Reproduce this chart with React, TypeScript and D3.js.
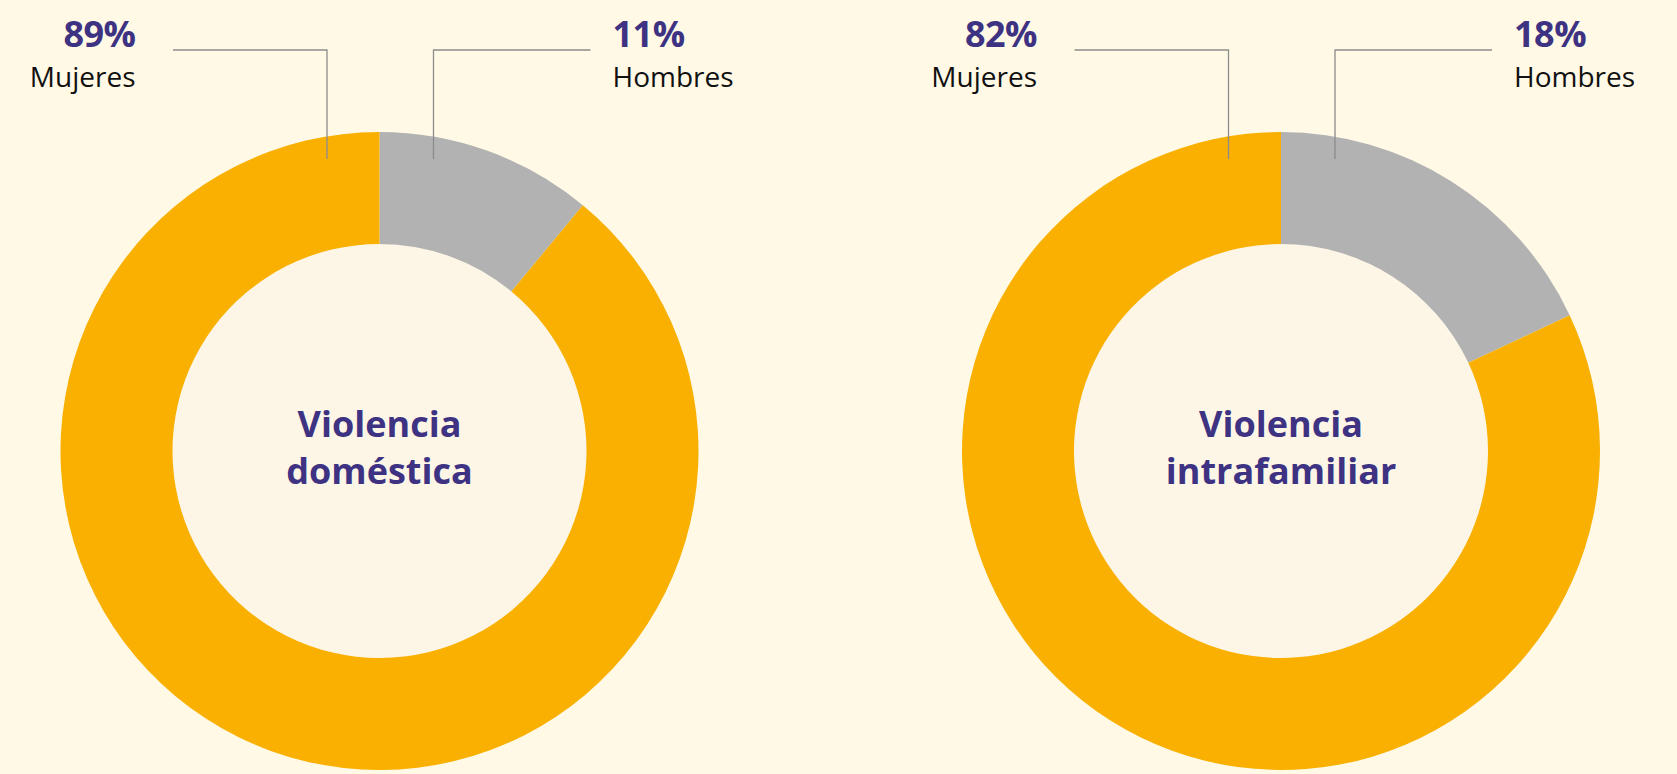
import { useEffect, useRef } from 'react'
import * as d3 from 'd3'

// data
const chartTitles = [['Violencia', 'doméstica'], ['Violencia', 'intrafamiliar']]
const categories = ['Mujeres', 'Hombres']
const domesticaValues = [89, 11]
const intrafamiliarValues = [82, 18]

const width = 1677
const height = 774

export default function App() {
  const svgRef = useRef(null)

  useEffect(() => {
    if (!svgRef.current) return
    document.body.style.margin = '0'

    const svg = d3.select(svgRef.current)
    svg.selectAll('*').remove()

    svg.append('rect')
      .attr('width', width)
      .attr('height', height)
      .attr('fill', '#FFF9E6')

    const outerR = 319
    const innerR = 207
    const cy = 451
    const centers = d3.scalePoint().domain(['0', '1']).range([379.5, 1281])

    const color = d3.scaleOrdinal().domain(categories).range(['#F9B000', '#B2B2B2'])

    // pie goes clockwise from the top; Hombres first, then Mujeres fills the rest
    const pie = d3.pie().value(d => d.value).sort(null)
    const arc = d3.arc().innerRadius(innerR).outerRadius(outerR)

    const datasets = [domesticaValues, intrafamiliarValues]

    datasets.forEach((values, i) => {
      const cx = centers(String(i))
      const rows = categories.map((name, j) => ({ name, value: values[j] })).reverse()

      const g = svg.append('g').attr('transform', `translate(${cx},${cy})`)

      g.append('circle')
        .attr('r', innerR)
        .attr('fill', '#FDF6E7')

      g.selectAll('.slice')
        .data(pie(rows))
        .join('path')
        .attr('class', 'slice')
        .attr('d', arc)
        .attr('fill', d => color(d.data.name))

      // centre title
      g.selectAll('.title')
        .data(chartTitles[i])
        .join('text')
        .attr('class', 'title')
        .attr('text-anchor', 'middle')
        .attr('y', (d, k) => -14 + k * 47)
        .attr('font-family', '"Open Sans", sans-serif')
        .attr('font-weight', 700)
        .attr('font-size', '36px')
        .attr('fill', '#3E3282')
        .text(d => d)

      // leader lines + labels
      const labels = [
        { name: categories[0], value: values[0], lx: -52.5, hx: -206.5, tx: -244, anchor: 'end' },
        { name: categories[1], value: values[1], lx: 54, hx: 211, tx: 233, anchor: 'start' },
      ]

      labels.forEach(l => {
        g.append('path')
          .attr('d', `M${l.lx},${159 - cy}V${50 - cy}H${l.hx}`)
          .attr('fill', 'none')
          .attr('stroke', '#8C8C8C')
          .attr('stroke-width', 1.3)

        g.append('text')
          .attr('x', l.tx)
          .attr('y', 47 - cy)
          .attr('text-anchor', l.anchor)
          .attr('font-family', '"Open Sans", sans-serif')
          .attr('font-weight', 700)
          .attr('font-size', '36px')
          .attr('letter-spacing', '-0.5px')
          .attr('fill', '#3E3282')
          .text(`${l.value}%`)

        g.append('text')
          .attr('x', l.tx)
          .attr('y', 87 - cy)
          .attr('text-anchor', l.anchor)
          .attr('font-family', '"Open Sans", sans-serif')
          .attr('font-size', '28px')
          .attr('fill', '#111')
          .text(l.name)
      })
    })
  }, [])

  return (
    <svg
      ref={svgRef}
      width={width}
      height={height}
      style={{ position: 'absolute', left: 0, top: 0, display: 'block' }}
    />
  )
}
